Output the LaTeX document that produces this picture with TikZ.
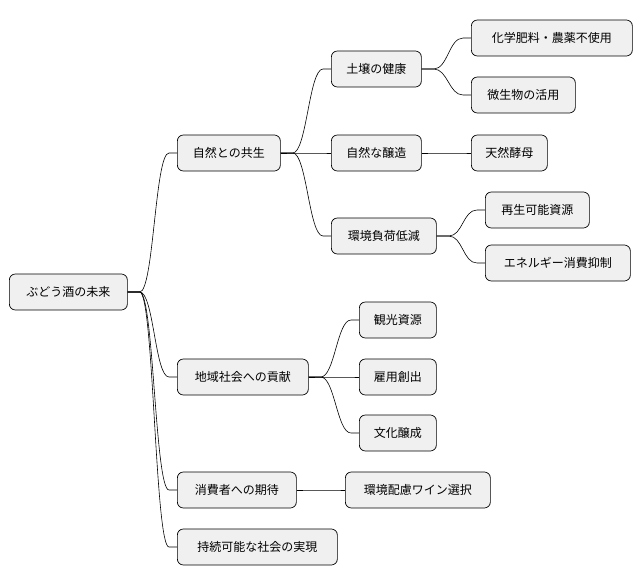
\documentclass[tikz,border=0pt]{standalone}
\usepackage{fontspec}
\setmainfont{Noto Sans CJK JP}
\begin{document}
\begin{tikzpicture}[x=1pt,y=-1pt,
  box/.style={draw=black,line width=0.7pt,fill=black!6,rounded corners=6pt,minimum height=36pt,inner xsep=0pt,font=\fontsize{12}{14}\selectfont,anchor=west},
  link/.style={draw=black,line width=0.6pt}]
\useasboundingbox (0,0) rectangle (642,583);
\newcommand{\bx}[5]{\node[box,minimum width=#3pt] (#1) at (#2,#4) {#5};}
\bx{root}{9}{118}{292}{ぶどう酒の未来}
\bx{a}{177}{103}{153}{自然との共生}
\bx{b}{177}{131}{377}{地域社会への貢献}
\bx{c}{177}{119}{490}{消費者への期待}
\bx{d}{177}{160}{547}{持続可能な社会の実現}
\bx{a1}{331}{90}{69}{土壌の健康}
\bx{a2}{331}{90}{153}{自然な醸造}
\bx{a3}{331}{105}{236}{環境負荷低減}
\bx{a11}{471}{161}{38}{化学肥料・農薬不使用}
\bx{a12}{471}{104}{95}{微生物の活用}
\bx{a21}{471}{76}{153}{天然酵母}
\bx{a31}{485}{104}{210}{再生可能資源}
\bx{a32}{485}{145}{263}{エネルギー消費抑制}
\bx{b1}{359}{77}{320}{観光資源}
\bx{b2}{359}{77}{377}{雇用創出}
\bx{b3}{359}{77}{433}{文化醸成}
\bx{c1}{345}{145}{490}{環境配慮ワイン選択}
\foreach \p/\c in {root/a,root/b,root/c,root/d,a/a1,a/a2,a/a3,a1/a11,a1/a12,a2/a21,a3/a31,a3/a32,b/b1,b/b2,b/b3,c/c1}
  \draw[link] (\p.east) -- ++(12,0) .. controls +(14,0) and ([xshift=-22pt]\c.west) .. ([xshift=-8pt]\c.west) -- (\c.west);
\end{tikzpicture}
\end{document}
